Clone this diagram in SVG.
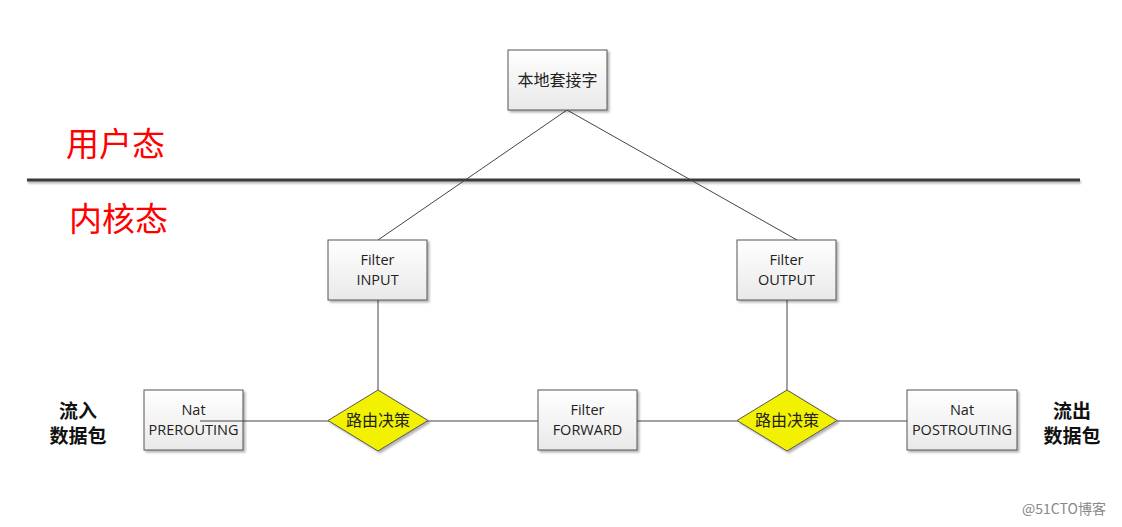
<svg xmlns="http://www.w3.org/2000/svg" width="1122" height="527" viewBox="0 0 1122 527">
<defs>
<linearGradient id="bg" x1="0" y1="0" x2="0" y2="1">
<stop offset="0" stop-color="#ffffff"/>
<stop offset="1" stop-color="#e9e9e9"/>
</linearGradient>
<filter id="sh" x="-10%" y="-10%" width="130%" height="130%">
<feDropShadow dx="2" dy="2" stdDeviation="1" flood-color="#000" flood-opacity="0.3"/>
</filter>
<filter id="shl" filterUnits="userSpaceOnUse" x="0" y="170" width="1122" height="20">
<feDropShadow dx="1" dy="2" stdDeviation="1" flood-color="#000" flood-opacity="0.3"/>
</filter>
</defs>
<style>
.box{fill:url(#bg);stroke:#555;stroke-width:1;filter:url(#sh)}
.dia{fill:#f2f200;stroke:#555;stroke-width:1;filter:url(#sh)}
.t{font-family:"Open Sans","Liberation Sans",sans-serif;font-size:14.5px;fill:#222;text-anchor:middle}
.dt{font-family:"Noto Sans CJK SC",sans-serif;font-size:16px;fill:#222;text-anchor:middle}
.red{font-family:"Noto Sans CJK SC",sans-serif;font-size:33px;fill:#ff0000}
.pk{font-family:"Noto Sans CJK SC",sans-serif;font-size:19px;font-weight:bold;fill:#111;text-anchor:middle}
.c{stroke:#444;stroke-width:1;fill:none}
</style>
<rect width="1122" height="527" fill="#fff"/>
<rect x="27" y="178.5" width="1053" height="3" fill="#3a3a3a" filter="url(#shl)"/>
<text class="red" x="66" y="156">用户态</text>
<text class="red" x="69" y="231">内核态</text>
<g id="connectors">
<line class="c" x1="567" y1="110" x2="378" y2="240"/>
<line class="c" x1="567" y1="110" x2="797" y2="240"/>
<line class="c" x1="378" y1="300" x2="378" y2="390"/>
<line class="c" x1="787" y1="300" x2="787" y2="390"/>
<line class="c" x1="200" y1="421" x2="329" y2="421"/>
<line class="c" x1="427" y1="421" x2="538" y2="421"/>
<line class="c" x1="637" y1="421" x2="738" y2="421"/>
<line class="c" x1="837" y1="421" x2="907" y2="421"/>
</g>
<g id="socket"><rect class="box" x="508" y="50" width="99" height="60"/><text class="dt" x="557.5" y="86" font-size="15">本地套接字</text></g>
<g id="input"><rect class="box" x="328" y="240" width="99" height="60"/><text class="t" x="377.5" y="265">Filter</text><text class="t" x="377.5" y="285">INPUT</text></g>
<g id="output"><rect class="box" x="737" y="240" width="99" height="60"/><text class="t" x="786.5" y="265">Filter</text><text class="t" x="786.5" y="285">OUTPUT</text></g>
<g id="prerouting"><rect class="box" x="144" y="390" width="99" height="60"/><text class="t" x="193.5" y="415">Nat</text><text class="t" x="193.5" y="435">PREROUTING</text></g>
<line class="c" x1="200" y1="421" x2="243" y2="421"/>
<g id="forward"><rect class="box" x="538" y="390" width="99" height="60"/><text class="t" x="587.5" y="415">Filter</text><text class="t" x="587.5" y="435">FORWARD</text></g>
<g id="postrouting"><rect class="box" x="907" y="390" width="110" height="60"/><text class="t" x="962" y="415">Nat</text><text class="t" x="962" y="435">POSTROUTING</text></g>
<g id="route1"><polygon class="dia" points="378,390 428,420.5 378,451 328,420.5"/><text class="dt" x="378" y="426">路由决策</text></g>
<g id="route2"><polygon class="dia" points="787,390 837,420.5 787,451 737,420.5"/><text class="dt" x="787" y="426">路由决策</text></g>
<g id="in"><text class="pk" x="78" y="418">流入</text><text class="pk" x="78" y="443">数据包</text></g>
<g id="out"><text class="pk" x="1072" y="418">流出</text><text class="pk" x="1072" y="443">数据包</text></g>
<text x="1064" y="514" font-family="Noto Sans CJK SC,sans-serif" font-size="14" fill="#888" text-anchor="middle">@51CTO博客</text>
</svg>
